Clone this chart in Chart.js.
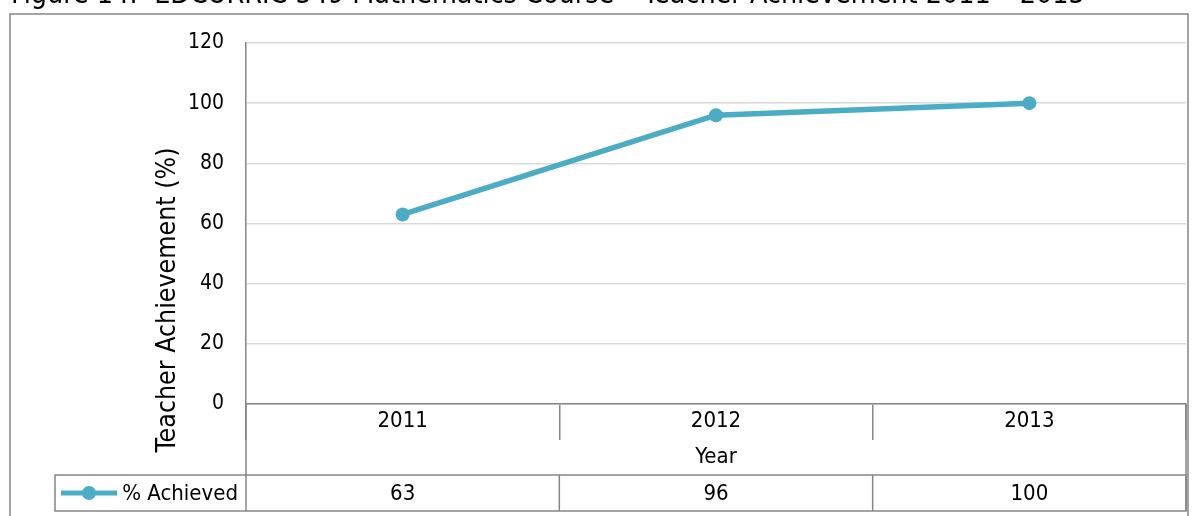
<!DOCTYPE html>
<html>
<head>
<meta charset="utf-8">
<script src="https://cdn.jsdelivr.net/npm/chart.js@4"></script>
<style>
  html, body { margin: 0; padding: 0; background: #fff; }
  #wrap { position: relative; width: 1200px; height: 516px; overflow: hidden; }
  #fig { position: absolute; left: 11px; top: -20px; font: 28.4px "DejaVu Sans Condensed", "DejaVu Sans", sans-serif; line-height: 28px; color: #000; white-space: nowrap; }
  #myChart { position: absolute; left: 0; top: 0; }
</style>
</head>
<body>
<div id="wrap">
  <canvas id="myChart" width="1200" height="516"></canvas>
  <div id="fig">Figure 14:&nbsp; EDCURRIC 549 Mathematics Course – Teacher Achievement 2011 – 2013</div>
</div>
<script>
var years = ["2011", "2012", "2013"];
var achieved = [63, 96, 100];
var seriesName = "% Achieved";
var yTitle = "Teacher Achievement (%)";
var xTitle = "Year";
var yMin = 0, yMax = 120, yStep = 20;

var FONT = '"DejaVu Sans Condensed", "DejaVu Sans", sans-serif';
var LINE = "#4bacc6";
var AXIS = "#868686";

// frame, y title and the data table under the axis
var tablePlugin = {
  id: "dataTable",
  beforeDraw: function (chart) {
    var c = chart.ctx;
    c.save();
    c.strokeStyle = AXIS;
    c.lineWidth = 1.5;
    c.strokeRect(10, 14, 1178, 520);
    c.restore();
  },
  afterDraw: function (chart) {
    var c = chart.ctx;
    var area = chart.chartArea;
    var x = chart.scales.x;
    var half = (x.getPixelForValue(1) - x.getPixelForValue(0)) / 2;
    var rowTop = area.bottom + 71, rowBot = area.bottom + 107;
    var midY = (rowTop + rowBot) / 2;

    c.save();
    c.strokeStyle = AXIS;
    c.lineWidth = 1.5;
    // outer verticals of the category block
    c.beginPath();
    c.moveTo(area.left, area.bottom);
    c.lineTo(area.left, rowBot);
    c.moveTo(area.right, area.bottom);
    c.lineTo(area.right, rowBot);
    c.stroke();
    // table row
    c.strokeRect(55, rowTop, area.right - 55, rowBot - rowTop);
    c.beginPath();
    for (var i = 1; i < years.length; i++) {
      var bx = x.getPixelForValue(i) - half;
      c.moveTo(bx, rowTop);
      c.lineTo(bx, rowBot);
    }
    c.stroke();

    // legend key
    c.strokeStyle = LINE;
    c.lineWidth = 5;
    c.beginPath();
    c.moveTo(61, midY);
    c.lineTo(117, midY);
    c.stroke();
    c.fillStyle = LINE;
    c.beginPath();
    c.arc(89, midY, 7, 0, Math.PI * 2);
    c.fill();

    c.fillStyle = "#000";
    c.font = "22px " + FONT;
    c.textBaseline = "middle";
    c.textAlign = "right";
    c.fillText(seriesName, 238, midY + 1);
    c.textAlign = "center";
    achieved.forEach(function (v, i) {
      c.fillText(String(v), x.getPixelForValue(i), midY + 1);
    });

    // y title centred on the whole plot block
    c.save();
    c.translate(168, (area.top + rowBot) / 2 + 23);
    c.rotate(-Math.PI / 2);
    c.font = "26.5px " + FONT;
    c.fillText(yTitle, 0, 0);
    c.restore();
    c.restore();
  }
};

var ctx = document.getElementById("myChart");
var myChart = new Chart(ctx, {
  type: "line",
  data: {
    labels: years,
    datasets: [
      {
        label: seriesName,
        data: achieved,
        borderColor: LINE,
        backgroundColor: LINE,
        borderWidth: 5.5,
        pointRadius: 7,
        pointHoverRadius: 7,
        pointBorderWidth: 0,
        tension: 0,
      },
    ],
  },
  options: {
    responsive: false,
    animation: false,
    layout: { padding: { top: 43, right: 14, bottom: 0, left: 0 } },
    plugins: {
      legend: { display: false },
      tooltip: { enabled: false },
    },
    scales: {
      x: {
        offset: true,
        grid: {
          offset: true,
          drawOnChartArea: false,
          drawTicks: true,
          tickLength: 36,
          color: AXIS,
          lineWidth: 1.5,
        },
        border: { display: true, color: AXIS, width: 1.5 },
        ticks: {
          color: "#000",
          font: { family: FONT, size: 22 },
          padding: -32,
          maxRotation: 0,
        },
        title: {
          display: true,
          text: xTitle,
          color: "#000",
          font: { family: FONT, size: 22 },
          padding: { top: 0, bottom: 46 },
        },
        afterFit: function (scale) {
          scale.height = 112;
        },
      },
      y: {
        min: yMin,
        max: yMax,
        grid: {
          color: "#d9d9d9",
          lineWidth: 1.5,
          drawTicks: false,
        },
        border: { display: true, color: AXIS, width: 1.5 },
        ticks: {
          stepSize: yStep,
          color: "#000",
          font: { family: FONT, size: 21 },
          padding: 22,
        },
        afterFit: function (scale) {
          scale.width = 246;
        },
      },
    },
  },
  plugins: [tablePlugin],
});
</script>
</body>
</html>
